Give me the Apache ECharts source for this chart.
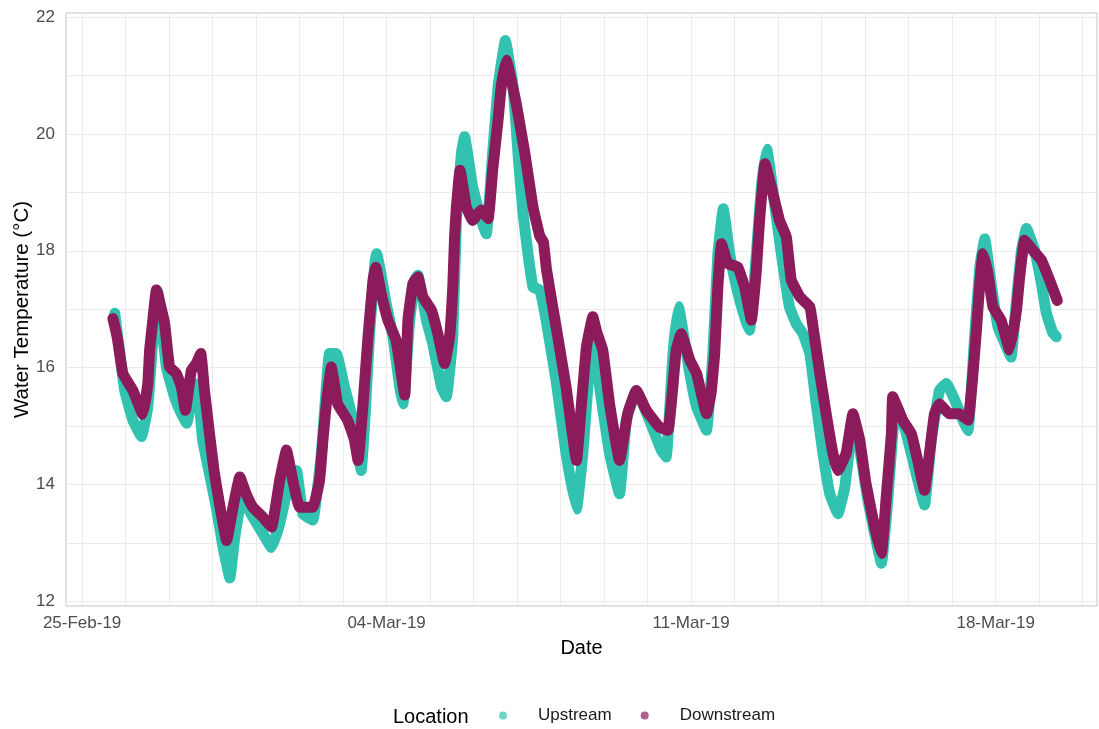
<!DOCTYPE html>
<html>
<head>
<meta charset="utf-8">
<title>Water Temperature</title>
<script src="https://cdn.jsdelivr.net/npm/echarts@6/dist/echarts.min.js"></script>
<style>
  html, body { margin: 0; padding: 0; background: #ffffff; }
  #chart { width: 1099px; height: 729px; }
</style>
</head>
<body>
<div id="chart"></div>
<script>
// Axis ticks (days after 25-Feb-2019) and their labels
const xTickDays = [0, 7, 14, 21];
const xTickLabels = ['25-Feb-19', '04-Mar-19', '11-Mar-19', '18-Mar-19'];
const yTickValues = [12, 14, 16, 18, 20, 22];

// Upstream logger (2019, MM-DD HH:mm) and water temperature (°C)
const upTimes = [
  '02-25 18:00','02-25 23:30','02-26 04:00','02-26 08:45','02-26 12:15','02-26 15:00','02-26 17:45','02-26 22:30',
  '02-27 03:00','02-27 06:45','02-27 09:45','02-27 13:00','02-27 15:30','02-27 18:30','02-27 22:15','02-28 02:00',
  '02-28 05:45','02-28 09:30','02-28 12:00','02-28 15:00','02-28 16:45','02-28 22:15','03-01 03:45','03-01 08:30',
  '03-01 13:00','03-01 18:30','03-01 22:15','03-02 01:45','03-02 07:15','03-02 12:00','03-02 14:45','03-02 16:30',
  '03-02 20:15','03-03 00:45','03-03 05:30','03-03 08:15','03-03 10:00','03-03 12:00','03-03 14:30','03-03 17:30',
  '03-03 18:30','03-03 23:45','03-04 03:30','03-04 07:15','03-04 09:00','03-04 12:45','03-04 15:30','03-04 17:15',
  '03-04 22:00','03-05 01:30','03-05 06:15','03-05 09:00','03-05 12:30','03-05 14:30','03-05 17:15','03-05 19:00',
  '03-05 23:30','03-06 04:15','03-06 07:00','03-06 10:30','03-06 13:30','03-06 17:30','03-06 21:45','03-07 00:30',
  '03-07 03:15','03-07 06:00','03-07 08:45','03-07 12:30','03-07 16:00','03-07 21:30','03-08 03:00','03-08 08:45',
  '03-08 12:15','03-08 15:00','03-08 17:30','03-08 21:30','03-09 03:00','03-09 08:30','03-09 12:15','03-09 17:45',
  '03-10 01:00','03-10 07:30','03-10 10:15','03-10 14:00','03-10 17:00','03-10 23:15','03-11 03:00','03-11 08:30',
  '03-11 12:00','03-11 14:45','03-11 17:45','03-11 21:15','03-12 01:00','03-12 05:30','03-12 08:15','03-12 12:00',
  '03-12 14:45','03-12 17:45','03-12 22:00','03-13 01:45','03-13 06:15','03-13 10:00','03-13 13:45','03-13 17:30',
  '03-13 21:00','03-14 00:45','03-14 04:30','03-14 09:00','03-14 12:45','03-14 17:00','03-14 21:00','03-15 01:30',
  '03-15 05:15','03-15 09:00','03-15 12:30','03-15 15:15','03-15 17:15','03-15 22:45','03-16 03:15','03-16 08:45',
  '03-16 12:30','03-16 17:00','03-16 20:45','03-17 01:30','03-17 06:00','03-17 08:45','03-17 12:30','03-17 15:15',
  '03-17 18:00','03-17 21:30','03-18 01:15','03-18 06:00','03-18 08:30','03-18 11:30','03-18 14:15','03-18 17:00',
  '03-18 21:30','03-19 01:15','03-19 04:00','03-19 07:30','03-19 09:30'
];
const upTemps = [
  16.93,15.61,15.10,14.82,15.33,16.47,17.30,16.01,
  15.50,15.21,15.05,15.56,15.72,14.76,14.19,13.61,
  12.93,12.40,13.04,13.61,13.73,13.44,13.16,12.92,
  13.33,14.07,14.24,13.50,13.39,14.53,15.67,16.24,
  16.24,15.67,15.10,14.53,14.24,15.10,16.53,17.78,
  17.95,17.10,16.53,15.67,15.38,16.81,17.50,17.58,
  16.81,16.41,15.67,15.50,16.53,18.52,19.67,19.95,
  19.09,18.52,18.29,19.67,20.81,21.60,20.81,19.67,
  18.64,17.95,17.38,17.33,16.81,15.78,14.53,13.58,
  14.53,15.67,16.80,15.67,14.53,13.84,15.10,15.61,
  15.10,14.59,14.47,16.24,17.04,15.90,15.33,14.93,
  16.24,17.95,18.72,17.95,17.38,16.87,16.64,17.95,
  19.09,19.74,18.81,17.95,17.04,16.75,16.58,16.24,
  15.38,14.53,13.84,13.50,13.95,14.95,14.60,13.73,
  13.16,12.65,13.73,14.87,15.38,14.87,14.30,13.65,
  14.76,15.61,15.73,15.44,15.10,14.92,16.58,17.72,
  18.20,17.44,16.70,16.35,16.18,17.15,18.01,18.38,
  18.01,17.44,16.93,16.60,16.53
];

// Downstream logger
const downTimes = [
  '02-25 17:00','02-25 19:30','02-25 22:30','02-26 04:00','02-26 09:30','02-26 12:15','02-26 13:15','02-26 15:00',
  '02-26 17:00','02-26 21:30','02-27 00:15','02-27 04:00','02-27 06:45','02-27 09:00','02-27 12:15','02-27 15:00',
  '02-27 17:30','02-27 19:30','02-27 22:15','02-28 01:00','02-28 04:45','02-28 07:45','02-28 11:15','02-28 15:00',
  '02-28 18:30','02-28 22:15','03-01 03:45','03-01 08:30','03-01 13:00','03-01 16:45','03-01 20:15','03-02 00:00',
  '03-02 07:15','03-02 11:00','03-02 13:00','03-02 14:45','03-02 17:30','03-02 21:00','03-03 02:30','03-03 06:15',
  '03-03 08:15','03-03 11:00','03-03 13:45','03-03 16:30','03-03 18:00','03-03 21:00','03-04 00:45','03-04 05:15',
  '03-04 10:00','03-04 11:45','03-04 14:30','03-04 17:15','03-04 20:00','03-05 00:45','03-05 04:15','03-05 08:00',
  '03-05 10:45','03-05 12:30','03-05 13:30','03-05 14:30','03-05 16:30','03-05 20:00','03-05 23:30','03-06 04:15',
  '03-06 08:00','03-06 10:30','03-06 13:30','03-06 15:15','03-06 18:00','03-06 23:30','03-07 04:15','03-07 08:45',
  '03-07 12:30','03-07 14:30','03-07 16:15','03-07 21:30','03-08 03:00','03-08 08:45','03-08 11:30','03-08 14:15',
  '03-08 17:45','03-08 20:00','03-08 23:15','03-09 03:00','03-09 08:30','03-09 13:00','03-09 17:45','03-09 23:15',
  '03-10 06:30','03-10 11:15','03-10 15:45','03-10 18:30','03-10 23:15','03-11 03:00','03-11 08:30','03-11 11:00',
  '03-11 13:00','03-11 14:45','03-11 16:45','03-11 20:15','03-12 01:45','03-12 05:30','03-12 09:15','03-12 12:00',
  '03-12 13:45','03-12 16:45','03-12 20:15','03-13 00:45','03-13 04:30','03-13 07:15','03-13 12:00','03-13 17:30',
  '03-13 19:15','03-13 23:00','03-14 02:30','03-14 06:15','03-14 09:00','03-14 13:30','03-14 17:15','03-14 21:00',
  '03-15 00:30','03-15 05:15','03-15 09:00','03-15 11:30','03-15 14:30','03-15 15:15','03-15 20:45','03-16 01:30',
  '03-16 05:00','03-16 08:45','03-16 11:30','03-16 14:15','03-16 17:00','03-16 22:30','03-17 04:00','03-17 08:45',
  '03-17 11:30','03-17 13:15','03-17 15:15','03-17 17:00','03-17 19:45','03-17 22:30','03-18 03:00','03-18 07:45',
  '03-18 11:30','03-18 13:15','03-18 16:00','03-18 20:30','03-19 01:15','03-19 05:45','03-19 10:00'
];
const downTemps = [
  16.84,16.50,15.90,15.61,15.20,15.73,16.30,16.81,
  17.33,16.76,16.01,15.90,15.67,15.27,15.95,16.07,
  16.24,15.61,14.88,14.19,13.50,13.04,13.61,14.13,
  13.84,13.61,13.44,13.27,14.07,14.59,14.07,13.61,
  13.61,14.07,14.81,15.38,16.01,15.38,15.10,14.76,
  14.41,15.38,16.53,17.50,17.72,17.27,16.81,16.47,
  15.53,16.81,17.44,17.55,17.21,16.98,16.58,16.07,
  16.53,17.38,18.24,18.75,19.38,18.75,18.52,18.70,
  18.55,19.38,20.24,20.81,21.26,20.52,19.67,18.75,
  18.25,18.15,17.67,16.70,15.67,14.41,15.38,16.35,
  16.87,16.60,16.30,15.38,14.41,15.21,15.61,15.27,
  14.98,14.93,16.30,16.58,16.13,15.90,15.21,15.56,
  16.24,17.38,18.12,17.78,17.72,17.38,16.81,17.67,
  18.52,19.49,19.09,18.52,18.24,17.50,17.21,17.04,
  16.70,15.90,15.21,14.53,14.24,14.53,15.21,14.76,
  14.01,13.27,12.82,13.73,14.87,15.50,15.10,14.87,
  14.41,13.90,14.53,15.21,15.38,15.21,15.21,15.10,
  15.90,16.58,17.44,17.95,17.61,17.04,16.81,16.30,
  16.98,17.55,18.18,18.01,17.84,17.50,17.15
];

const FONT = '"Liberation Sans", Arial, Helvetica, sans-serif';
const UP_COLOR = '#31C3B0';
const DOWN_COLOR = '#8C1B5B';

// Fractional days after 25-Feb-2019 00:00
function dayOffset(stamp) {
  const [md, hm] = stamp.split(' ');
  const [m, d] = md.split('-').map(Number);
  const [h, mi] = hm.split(':').map(Number);
  return (Date.UTC(2019, m - 1, d, h, mi) - Date.UTC(2019, 1, 25)) / 86400000;
}
const pairs = (times, temps) => times.map((t, i) => [dayOffset(t), temps[i]]);

// Panel grid: one vertical line per day, one horizontal line per degree
const dayLines = [];
for (let d = 0; d <= 23; d++) dayLines.push({ xAxis: d });
const degLines = [];
for (let v = 12; v <= 22; v++) degLines.push({ yAxis: v });

const chart = echarts.init(document.getElementById('chart'), null, { renderer: 'canvas' });

const bandLine = (color) => ({
  width: 11, color: color, cap: 'round', join: 'round'
});

chart.setOption({
  animation: false,
  backgroundColor: '#ffffff',
  textStyle: { fontFamily: FONT },
  grid: {
    left: 66, right: 2, top: 13, bottom: 123,
    outerBoundsMode: 'none',
    containLabel: false,
    show: true, borderColor: '#c4c4c4', borderWidth: 1, backgroundColor: 'transparent'
  },
  xAxis: {
    type: 'value',
    min: -0.37, max: 23.33,
    name: 'Date', nameLocation: 'middle', nameGap: 32,
    nameMoveOverlap: false,
    nameTextStyle: { fontFamily: FONT, fontSize: 20, color: '#000000' },
    axisLine: { show: false },
    axisTick: { show: false },
    splitLine: { show: false },
    axisLabel: {
      customValues: xTickDays,
      margin: 9,
      fontFamily: FONT, fontSize: 17, color: '#4d4d4d',
      formatter: (v) => xTickLabels[xTickDays.indexOf(Math.round(v))] || ''
    }
  },
  yAxis: {
    type: 'value',
    min: 11.92, max: 22.07,
    name: 'Water Temperature (°C)', nameLocation: 'middle', nameGap: 33,
    nameMoveOverlap: false,
    nameTextStyle: { fontFamily: FONT, fontSize: 20.5, color: '#000000' },
    axisLine: { show: false },
    axisTick: { show: false },
    splitLine: { show: false },
    axisLabel: {
      customValues: yTickValues,
      margin: 11,
      fontFamily: FONT, fontSize: 17, color: '#4d4d4d'
    }
  },
  legend: {
    data: ['Upstream', 'Downstream'],
    left: 494, top: 702,
    orient: 'horizontal',
    icon: 'circle',
    itemWidth: 8, itemHeight: 8,
    itemGap: 29,
    itemStyle: { opacity: 0.7 },
    textStyle: { fontFamily: FONT, fontSize: 17, color: '#1a1a1a', padding: [0, 0, 0, 26] }
  },
  graphic: [{
    type: 'text', left: 393, top: 707,
    style: { text: 'Location', font: '20px ' + FONT, fill: '#000000' }
  }],
  series: [
    {
      name: 'grid-lines',
      type: 'line',
      z: 0,
      zlevel: 0,
      silent: true,
      data: [[0, 17]],
      showSymbol: false,
      lineStyle: { opacity: 0 },
      markLine: {
        z: 0,
        silent: true,
        symbol: ['none', 'none'],
        label: { show: false },
        lineStyle: { color: '#ebebeb', width: 1, type: 'solid' },
        data: dayLines.concat(degLines)
      }
    },
    {
      name: 'Upstream',
      type: 'line',
      z: 2,
      zlevel: 1,
      data: pairs(upTimes, upTemps),
      showSymbol: false,
      smooth: 0.1,
      itemStyle: { color: UP_COLOR },
      lineStyle: bandLine(UP_COLOR)
    },
    {
      name: 'Downstream',
      type: 'line',
      z: 3,
      zlevel: 1,
      data: pairs(downTimes, downTemps),
      showSymbol: false,
      smooth: 0.1,
      itemStyle: { color: DOWN_COLOR },
      lineStyle: bandLine(DOWN_COLOR)
    }
  ]
});
</script>
</body>
</html>
